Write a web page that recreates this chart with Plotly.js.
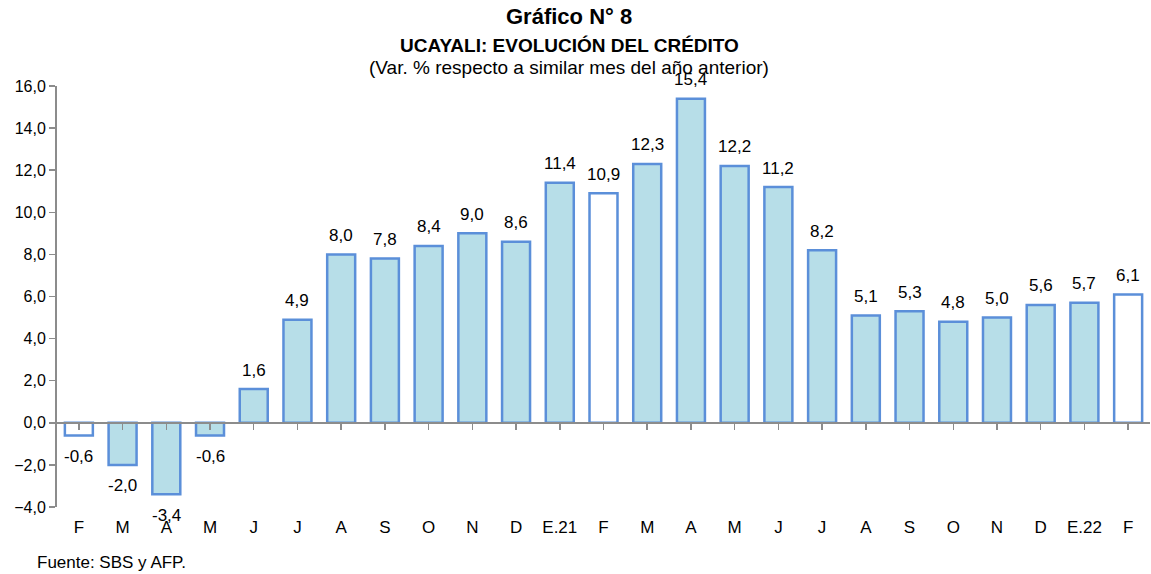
<!DOCTYPE html>
<html><head><meta charset="utf-8">
<script src="https://cdn.plot.ly/plotly-3.0.1.min.js"></script>
<style>html,body{margin:0;padding:0;background:#fff}#chart{width:1151px;height:574px}</style>
</head><body><div id="chart"></div>
<script>
const tickLabels = ["F","M","A","M","J","J","A","S","O","N","D","E.21","F","M","A","M","J","J","A","S","O","N","D","E.22","F"];
const values = [-0.6,-2.0,-3.4,-0.6,1.6,4.9,8.0,7.8,8.4,9.0,8.6,11.4,10.9,12.3,15.4,12.2,11.2,8.2,5.1,5.3,4.8,5.0,5.6,5.7,6.1];
const highlighted = [0,12,24]; // February bars drawn white

const idx = tickLabels.map((_, i) => i);
const fills = idx.map(i => highlighted.includes(i) ? '#ffffff' : '#b7dee8');

const font = {family: 'Liberation Sans, Arial, sans-serif', color: '#000'};
const f = s => Object.assign({size: s}, font);

const trace = {
  type: 'bar', x: idx, y: values,
  marker: {color: fills, line: {color: '#5b8fd9', width: 2.5}},
  hoverinfo: 'skip'
};
const axisTrace = {type: 'scatter', x: idx, y: values, xaxis: 'x2', mode: 'none', hoverinfo: 'skip', showlegend: false};

const valueLabels = idx.map(i => ({
  x: i, y: values[i], xref: 'x', yref: 'y',
  text: values[i].toFixed(1).replace('.', ','),
  showarrow: false, yanchor: 'middle', yshift: values[i] >= 0 ? 19 : -21,
  font: f(17)
}));

const layout = {
  width: 1151, height: 574,
  margin: {l: 57, r: 1, t: 86, b: 67},
  paper_bgcolor: '#fff', plot_bgcolor: '#fff',
  separators: ',.',
  showlegend: false,
  bargap: 0.36,
  font: f(16),
  xaxis: {
    tickmode: 'array', tickvals: idx, ticktext: tickLabels,
    range: [-0.5, 24.5], showline: false, showgrid: false, zeroline: false,
    ticks: '', tickfont: f(17), ticklabelstandoff: 8
  },
  xaxis2: {
    overlaying: 'x', anchor: 'free', position: 0.2, side: 'bottom',
    range: [-0.5, 24.5], tickmode: 'array', tickvals: idx, tickson: 'boundaries',
    showticklabels: false, showline: true, linecolor: '#8c8c8c', linewidth: 2,
    ticks: 'outside', ticklen: 6, tickcolor: '#8c8c8c', tickwidth: 1.5, showgrid: false, zeroline: false
  },
  yaxis: {
    range: [-4, 16], dtick: 2, tick0: 0, tickformat: '.1f',
    showline: true, linecolor: '#8c8c8c', linewidth: 2,
    ticks: 'outside', ticklen: 6, tickcolor: '#8c8c8c', tickwidth: 1.5,
    showgrid: false, zeroline: false, tickfont: f(16)
  },
  annotations: valueLabels.concat([
    {text: '<b>Gráfico N° 8</b>', xref: 'paper', yref: 'paper', x: 0.4685, y: 1.164, yanchor: 'middle', showarrow: false, font: f(22)},
    {text: '<b>UCAYALI: EVOLUCIÓN DEL CRÉDITO</b>', xref: 'paper', yref: 'paper', x: 0.4685, y: 1.097, yanchor: 'middle', showarrow: false, font: f(19)},
    {text: '(Var. % respecto a similar mes del año anterior)', xref: 'paper', yref: 'paper', x: 0.4685, y: 1.045, yanchor: 'middle', showarrow: false, font: f(19)},
    {text: 'Fuente: SBS y AFP.', xref: 'paper', yref: 'paper', x: -0.0205, xanchor: 'left', y: -0.133, yanchor: 'middle', showarrow: false, font: f(17)}
  ])
};
Plotly.newPlot('chart', [trace, axisTrace], layout, {displayModeBar: false, staticPlot: true});
</script></body></html>
